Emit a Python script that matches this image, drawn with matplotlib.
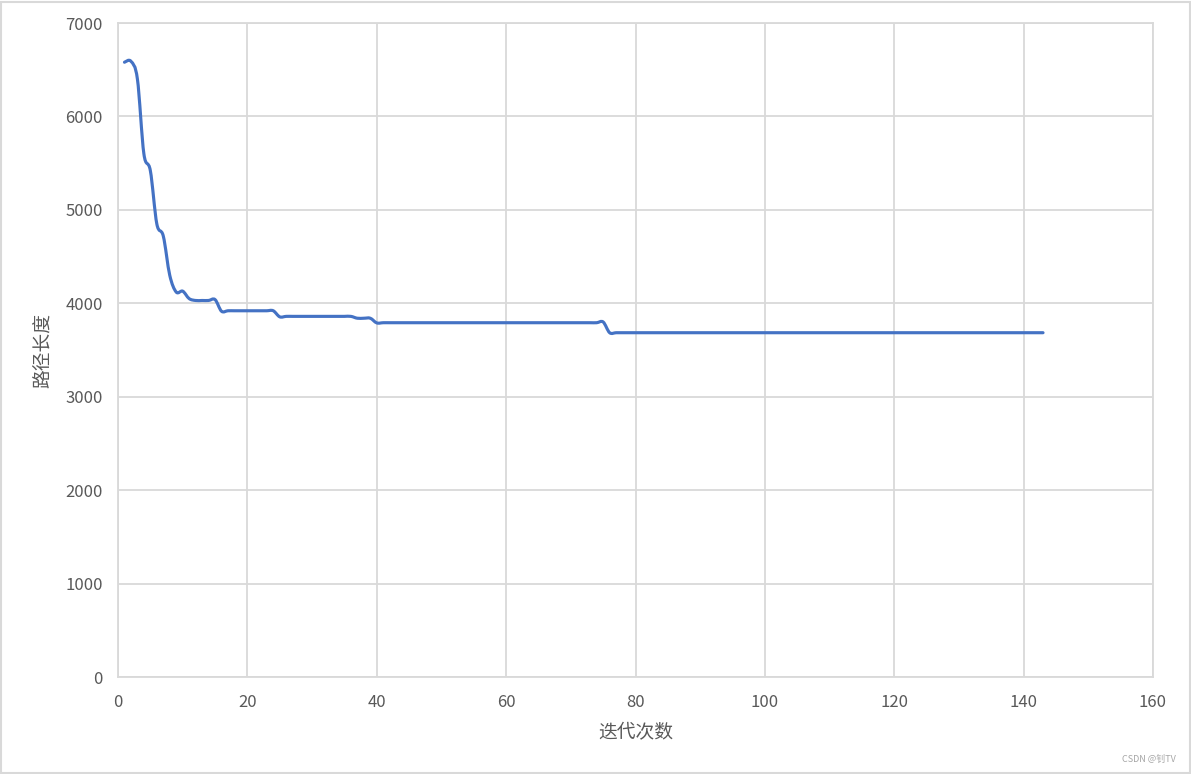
import matplotlib
matplotlib.use("Agg")
import matplotlib.pyplot as plt
import numpy as np
from matplotlib.path import Path
from matplotlib.patches import PathPatch, Rectangle

plt.rcParams["font.family"] = ["Noto Sans CJK SC", "DejaVu Sans"]

# path length per iteration (iterations 1..143)
path_length = [
    6580, 6590, 6400, 5600, 5420, 4850, 4720, 4300, 4120, 4130,
    4050, 4030, 4030, 4030, 4040, 3915, 3920, 3920, 3920, 3920,
    3920, 3920, 3920, 3920, 3855, 3860, 3860, 3860, 3860, 3860,
    3860, 3860, 3860, 3860, 3860, 3860, 3840, 3840, 3840, 3790,
    3792, 3792, 3792, 3792, 3792, 3792, 3792, 3792, 3792, 3792,
    3792, 3792, 3792, 3792, 3792, 3792, 3792, 3792, 3792, 3792,
    3792, 3792, 3792, 3792, 3792, 3792, 3792, 3792, 3792, 3792,
    3792, 3792, 3792, 3792, 3800, 3685, 3685, 3685, 3685, 3685,
    3685, 3685, 3685, 3685, 3685, 3685, 3685, 3685, 3685, 3685,
    3685, 3685, 3685, 3685, 3685, 3685, 3685, 3685, 3685, 3685,
    3685, 3685, 3685, 3685, 3685, 3685, 3685, 3685, 3685, 3685,
    3685, 3685, 3685, 3685, 3685, 3685, 3685, 3685, 3685, 3685,
    3685, 3685, 3685, 3685, 3685, 3685, 3685, 3685, 3685, 3685,
    3685, 3685, 3685, 3685, 3685, 3685, 3685, 3685, 3685, 3685,
    3685, 3685, 3685,
]
iterations = list(range(1, len(path_length) + 1))

x_ticks = [0, 20, 40, 60, 80, 100, 120, 140, 160]
y_ticks = [0, 1000, 2000, 3000, 4000, 5000, 6000, 7000]

LINE = "#4472C4"
GRID = "#d9d9d9"
TEXT = "#595959"


def smooth_path(xs, ys):
    # Excel-style smoothed line: cubic Bezier segments with Catmull-Rom tangents
    pts = np.column_stack([xs, ys]).astype(float)
    ext = np.vstack([pts[0], pts, pts[-1]])
    verts = [tuple(pts[0])]
    codes = [Path.MOVETO]
    for i in range(len(pts) - 1):
        p0, p1, p2, p3 = ext[i], ext[i + 1], ext[i + 2], ext[i + 3]
        c1 = p1 + (p2 - p0) / 6
        c2 = p2 - (p3 - p1) / 6
        verts += [tuple(c1), tuple(c2), tuple(p2)]
        codes += [Path.CURVE4] * 3
    return Path(verts, codes)


fig = plt.figure(figsize=(11.91, 7.74), dpi=100)
ax = fig.add_axes([118 / 1191, 1 - 677 / 774, (1153 - 118) / 1191, (677 - 23) / 774])

patch = PathPatch(smooth_path(iterations, path_length), facecolor="none",
                  edgecolor=LINE, linewidth=2.25, capstyle="round", joinstyle="round",
                  zorder=3)
ax.add_patch(patch)

ax.set_xlim(0, 160)
ax.set_ylim(0, 7000)
ax.set_xticks(x_ticks)
ax.set_yticks(y_ticks)
ax.grid(True, color=GRID, linewidth=1.3)
ax.set_axisbelow(True)
for s in ax.spines.values():
    s.set_color(GRID)
    s.set_linewidth(1.3)
ax.tick_params(length=0, labelsize=12, labelcolor=TEXT)
ax.tick_params(axis="x", pad=12)
ax.tick_params(axis="y", pad=11)

ax.set_xlabel("迭代次数", fontsize=13.5, color=TEXT, labelpad=8)
ax.set_ylabel("路径长度", fontsize=13.5, color=TEXT, labelpad=8)

# chart area border and watermark
fig.patches.append(Rectangle((0.0008, 0.001), 0.998, 0.997, transform=fig.transFigure,
                             fill=False, edgecolor=GRID, linewidth=1.5))
fig.text(1176 / 1191, 1 - 759 / 774, "CSDN @钊TV", fontsize=6.5, color="#a6a6a6",
         ha="right", va="center")

fig.savefig("out.png", dpi=100)
